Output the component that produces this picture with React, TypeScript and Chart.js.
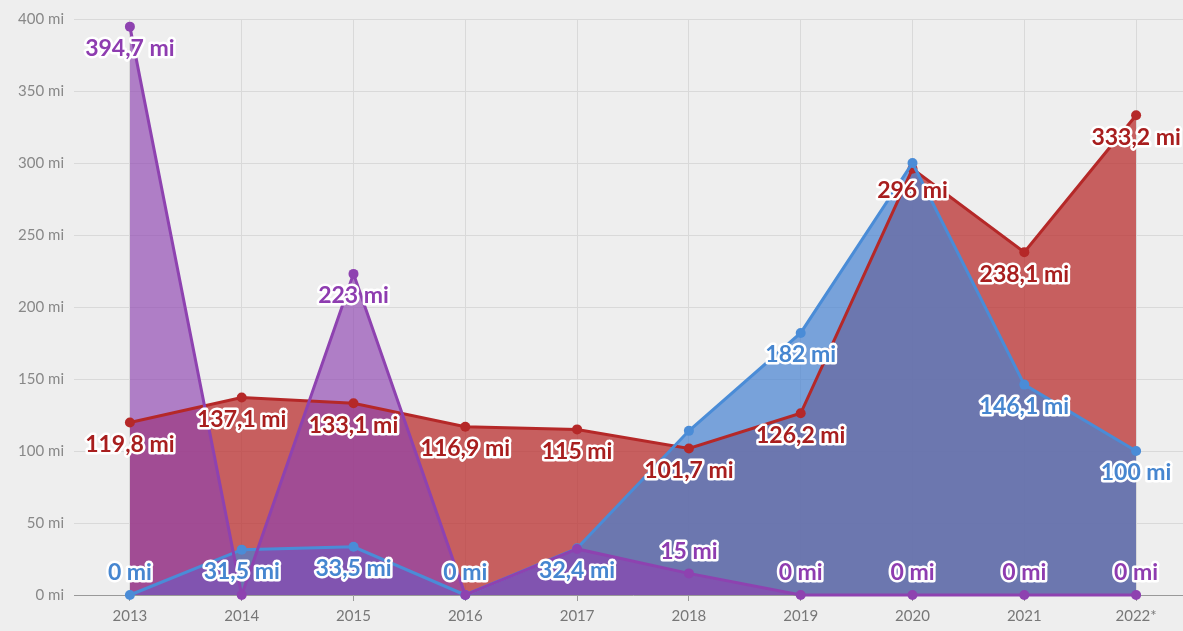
import React, { useEffect, useRef } from "react";
import { Chart, registerables } from "chart.js";

Chart.register(...registerables);

const years = ["2013", "2014", "2015", "2016", "2017", "2018", "2019", "2020", "2021", "2022*"];
const redValues = [119.8, 137.1, 133.1, 116.9, 115, 101.7, 126.2, 296, 238.1, 333.2];
const blueValues = [0, 31.5, 33.5, 0, 32.4, 114, 182, 300, 146.1, 100];
const purpleValues = [394.7, 0, 223, 0, 32, 15, 0, 0, 0, 0];
const redLabelShown = [true, true, true, true, true, true, true, true, true, true];
const blueLabelShown = [true, true, true, true, true, false, true, false, true, true];
const purpleLabelShown = [true, false, true, false, false, true, true, true, true, true];
const yTickValues = [0, 50, 100, 150, 200, 250, 300, 350, 400];

const RED = "rgb(181,40,40)";
const BLUE = "rgb(74,140,215)";
const PURPLE = "rgb(142,66,176)";

const fmt = (v: number) => String(v).replace(".", ",") + " mi";

const bgPlugin = {
  id: "bg",
  beforeDraw(chart: any) {
    const ctx = chart.ctx;
    ctx.save();
    ctx.fillStyle = "#eeeeee";
    ctx.fillRect(0, 0, chart.width, chart.height);
    ctx.restore();
  },
};

const labelPlugin = {
  id: "valueLabels",
  afterDatasetsDraw(chart: any) {
    const ctx = chart.ctx;
    ctx.save();
    ctx.font = "bold 23px Lato";
    ctx.textAlign = "center";
    ctx.textBaseline = "middle";
    ctx.lineJoin = "round";
    const order = [2, 1, 0];
    order.forEach((di) => {
      const ds = chart.data.datasets[di];
      const meta = chart.getDatasetMeta(di);
      const shown: boolean[] = ds.labelShown;
      meta.data.forEach((pt: any, i: number) => {
        if (!shown[i]) return;
        const v = ds.data[i] as number;
        const y = pt.y + (v < 20 ? -22 : 22);
        const t = fmt(v);
        ctx.lineWidth = 5;
        ctx.strokeStyle = "#ffffff";
        ctx.strokeText(t, pt.x, y);
        ctx.fillStyle = ds.labelColor;
        ctx.fillText(t, pt.x, y);
      });
    });
    ctx.restore();
  },
};

export default function App() {
  const ref = useRef<HTMLCanvasElement | null>(null);
  useEffect(() => {
    document.body.style.margin = "0";
    Chart.defaults.font.family = "Lato";
    const chart = new Chart(ref.current as HTMLCanvasElement, {
      type: "line",
      data: {
        labels: years,
        datasets: [
          {
            label: "purple",
            data: purpleValues,
            borderColor: PURPLE,
            backgroundColor: "rgba(142,66,176,0.65)",
            pointBackgroundColor: PURPLE,
            fill: "origin",
            labelShown: purpleLabelShown,
            labelColor: "rgb(142,60,176)",
          } as any,
          {
            label: "blue",
            data: blueValues,
            borderColor: BLUE,
            backgroundColor: "rgba(70,130,210,0.7)",
            pointBackgroundColor: BLUE,
            fill: "origin",
            labelShown: blueLabelShown,
            labelColor: "rgb(70,134,208)",
          } as any,
          {
            label: "red",
            data: redValues,
            borderColor: RED,
            backgroundColor: "rgba(185,40,40,0.72)",
            pointBackgroundColor: RED,
            fill: "origin",
            labelShown: redLabelShown,
            labelColor: "rgb(168,30,30)",
          } as any,
        ],
      },
      options: {
        animation: false,
        responsive: true,
        maintainAspectRatio: false,
        layout: { padding: { top: 19, right: 8, left: 0, bottom: 0 } },
        elements: {
          line: { borderWidth: 3, tension: 0 },
          point: { radius: 5, borderWidth: 0, hoverRadius: 5 },
        },
        datasets: { line: { clip: false } as any },
        plugins: {
          legend: { display: false },
          tooltip: { enabled: false },
          filler: { drawTime: "beforeDatasetsDraw" } as any,
        },
        scales: {
          x: {
            type: "category",
            offset: true,
            grid: {
              display: true,
              offset: false,
              color: "#d9d9d9",
              drawTicks: true,
              tickLength: 6,
              tickColor: "#999999",
            },
            border: { display: true, color: "#999999", width: 1 },
            ticks: { color: "#777777", font: { size: 15 }, padding: 6 },
          },
          y: {
            min: 0,
            max: 400,
            afterFit: (scale: any) => {
              scale.width = 74;
            },
            afterBuildTicks: (scale: any) => {
              scale.ticks = yTickValues.map((v) => ({ value: v }));
            },
            grid: { color: "#d9d9d9", drawTicks: false },
            border: { display: false },
            ticks: {
              color: "#888888",
              font: { size: 15 },
              padding: 10,
              callback: (v: any) => v + " mi",
            },
          },
        },
      },
      plugins: [bgPlugin, labelPlugin],
    });
    return () => chart.destroy();
  }, []);
  return (
    <div style={{ position: "fixed", left: 0, top: 0, width: 1183, height: 631, overflow: "hidden", background: "#eeeeee" }}>
      <div style={{ position: "absolute", left: 0, top: 0, width: 1200, height: 631 }}>
        <canvas ref={ref} />
      </div>
    </div>
  );
}
